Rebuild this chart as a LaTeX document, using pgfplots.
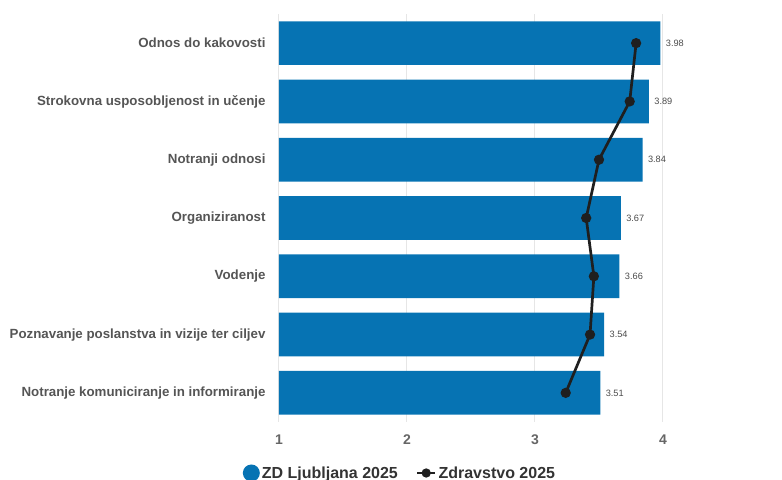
\documentclass[border=0pt]{standalone}
\usepackage{pgfplots}
\pgfplotsset{compat=1.18}
\usepackage{fontspec}
\setmainfont{Liberation Sans}
\definecolor{barblue}{HTML}{0673B3}
\definecolor{gridgrey}{HTML}{E6E6E6}
\definecolor{labgrey}{HTML}{555555}
\definecolor{linedark}{HTML}{1F1F1F}
\begin{document}
\begin{tikzpicture}
\useasboundingbox (-279bp,-58bp) rectangle (503bp,422bp);
\begin{axis}[
    scale only axis,
    width=384bp, height=408bp,
    xmin=1, xmax=4,
    ymin=-0.5, ymax=6.5,
    clip=false,
    axis line style={draw=none},
    xtick={1,2,3,4},
    ytick={0,...,6},
    yticklabels={Notranje komuniciranje in informiranje,
                 Poznavanje poslanstva in vizije ter ciljev,
                 Vodenje, Organiziranost, Notranji odnosi,
                 Strokovna usposobljenost in učenje, Odnos do kakovosti},
    major tick length=0pt,
    xmajorgrids, grid style={gridgrey, line width=1bp},
    yticklabel style={font=\fontsize{13.3bp}{15bp}\selectfont\bfseries, text=labgrey, xshift=-10bp},
    xticklabel style={font=\fontsize{14bp}{16bp}\selectfont\bfseries, text=black!60, yshift=-9bp},
    /pgf/number format/assume math mode=true,
    legend style={draw=none, fill=none, legend columns=2,
        at={(axis description cs:0.315,-0.125)}, anchor=center,
        font=\fontsize{16bp}{18bp}\selectfont\bfseries, text=black!80,
        /tikz/every even column/.append style={column sep=16bp}},
    legend cell align=left,
]
\addplot[xbar, bar width=0.75, fill=barblue, draw=none,
    nodes near coords,
    nodes near coords style={font=\fontsize{9.2bp}{11bp}\selectfont, text=black!70, anchor=west, xshift=2bp},
    /pgf/number format/.cd, fixed, precision=2, fixed zerofill,
    /pgfplots/legend image code/.code={\fill[barblue] (2bp,0bp) circle (8.5bp);}]
coordinates {
    (3.51,0) (3.54,1) (3.66,2) (3.67,3) (3.84,4) (3.89,5) (3.98,6)
};
\addlegendentry{ZD Ljubljana 2025}
\addplot[linedark, line width=2.7bp, mark=*, mark size=3.7bp,
    legend image code/.code={\draw[linedark, line width=2.7bp] (0bp,0bp) -- (18bp,0bp);
        \fill[linedark] (9bp,0bp) circle (3.2bp);}]
coordinates {
    (3.24,0) (3.43,1) (3.46,2) (3.40,3) (3.50,4) (3.74,5) (3.79,6)
};
\addlegendentry{Zdravstvo 2025}
\end{axis}
\end{tikzpicture}
\end{document}
